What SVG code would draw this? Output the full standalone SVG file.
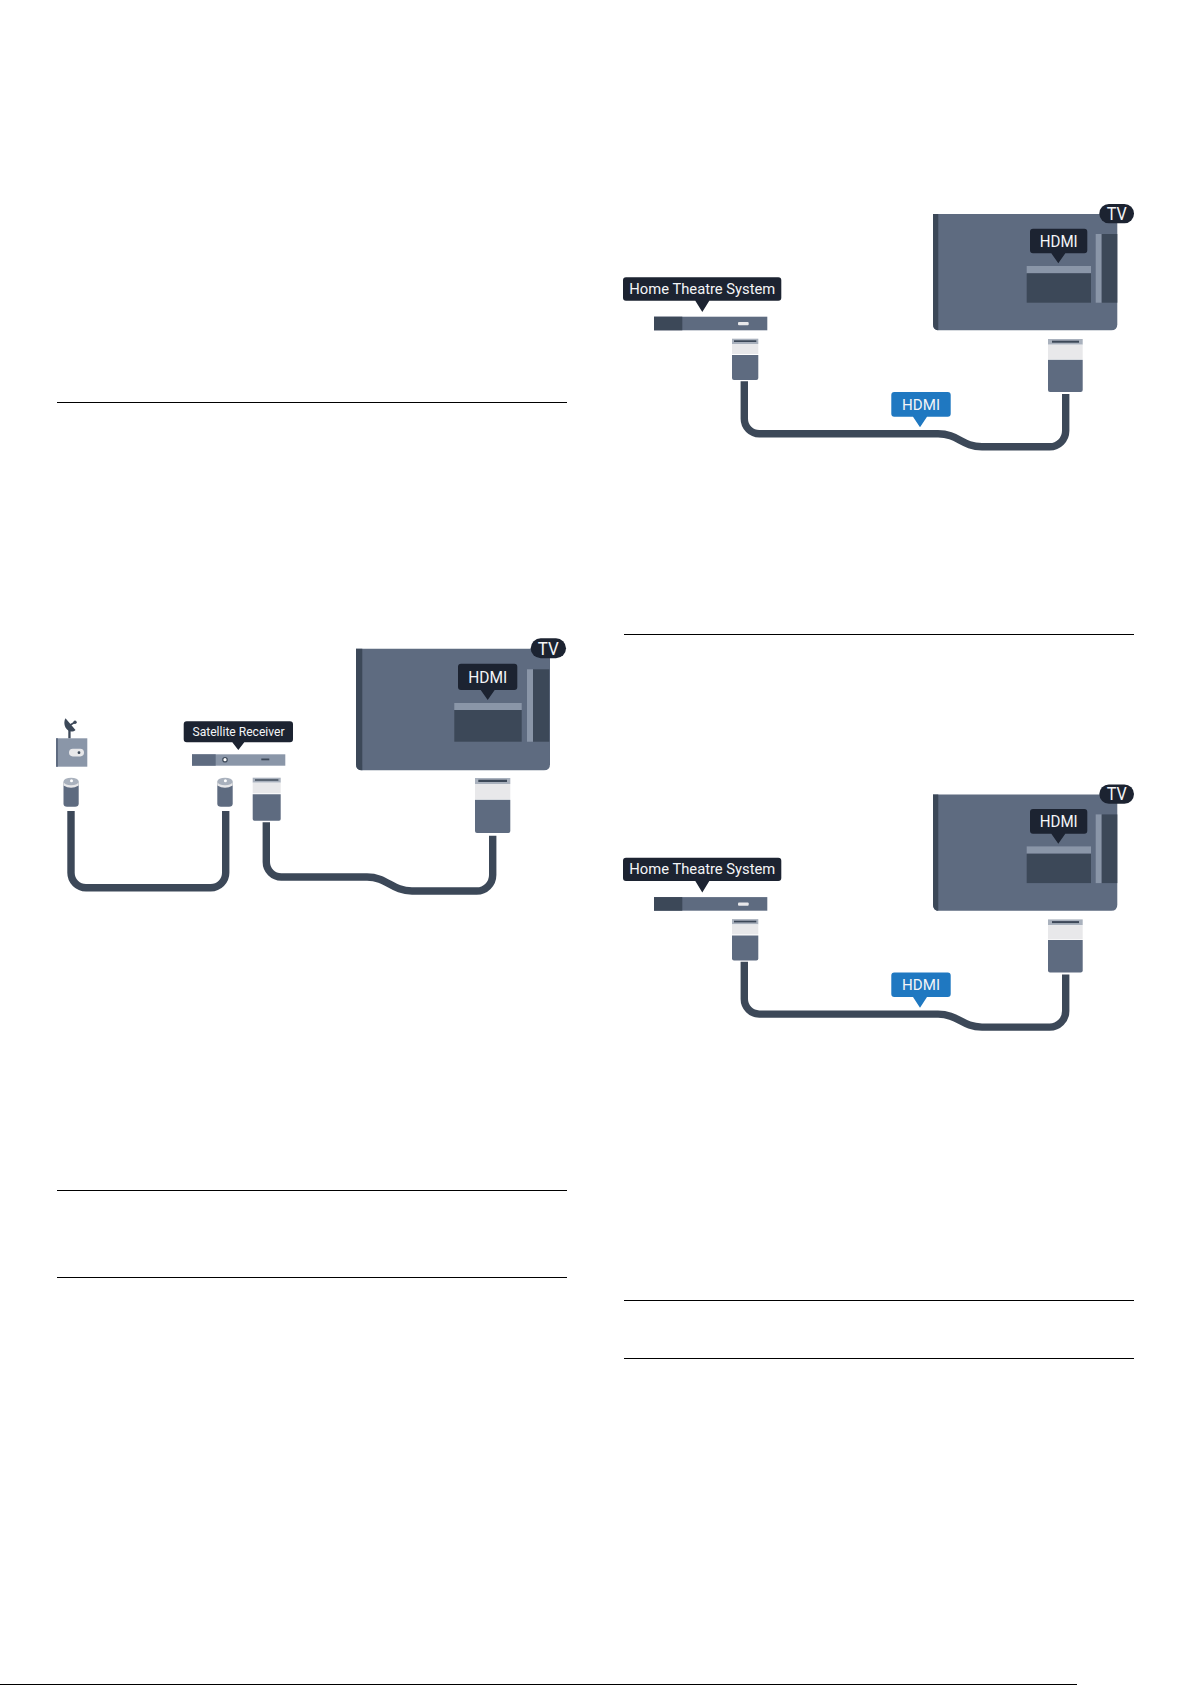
<svg xmlns="http://www.w3.org/2000/svg" width="1192" height="1685" viewBox="0 0 1192 1685">
<style>
.d{fill:#3c4858}.m{fill:#5e6b80}.l{fill:#8a96a8}.b{fill:#e8e8ea}.g{fill:#a9b1bd}
.n{fill:#1c2331}.bl{fill:#1f78c1}
.c{fill:none;stroke:#3c4858;stroke-width:7.4}
.r{fill:#000}
text{font-family:Roboto,"Liberation Sans",sans-serif;fill:#f4f5f7;text-anchor:middle}
</style>
<rect width="1192" height="1685" fill="#fff"/>
<g id="rules">
<rect class="r" x="57" y="402" width="510" height="1"/>
<rect class="r" x="57" y="1190" width="510" height="1"/>
<rect class="r" x="57" y="1277" width="510" height="1"/>
<rect class="r" x="624" y="634" width="510" height="1"/>
<rect class="r" x="624" y="1300" width="510" height="1"/>
<rect class="r" x="624" y="1358" width="510" height="1"/>
<rect class="r" x="0" y="1684" width="1077" height="1"/>
</g>
<g id="connectors">
<path class="c" d="M71 811V872.700A15 15 0 0 0 86 887.700H210.700A15 15 0 0 0 225.700 872.700V811"/>
<path class="c" d="M266.300 822.300V862A15 15 0 0 0 281.300 877H367C387 877 392 891 412 891H476.700A16 16 0 0 0 492.700 875V835.700"/>
<path class="c" d="M744.300 381.300V418.700A15 15 0 0 0 759.300 433.700H938C958 433.700 962 446.700 982 446.700H1049.700A16 16 0 0 0 1065.700 430.700V394"/>
<path class="c" transform="translate(0 580.400)" d="M744.300 381.300V418.700A15 15 0 0 0 759.300 433.700H938C958 433.700 962 446.700 982 446.700H1049.700A16 16 0 0 0 1065.700 430.700V394"/>
</g>
<g id="wall-outlet">
<rect class="d" x="68.300" y="726" width="2.300" height="12.500"/>
<path class="d" d="M65.500 718.200C62.800 723 65 729.500 70 731.300C72 731.900 74 731.400 75.500 730Z"/>
<path class="d" d="M68.500 725L74.500 721.500L75.300 723L69.500 726.500Z"/>
<circle class="d" cx="75" cy="722.300" r="1.700"/>
<rect class="l" x="56" y="738.300" width="31.300" height="28.400"/>
<rect class="m" x="56" y="738.300" width="2" height="28.400"/>
<rect class="b" x="69" y="748.800" width="15" height="7.600" rx="3.800"/>
<circle class="d" cx="79" cy="752.700" r="1.400"/>
</g>
<g id="coax-plug-left">
<path class="m" d="M63.500 782H78.700V803.500Q78.700 806.700 75 806.700H67Q63.500 806.700 63.500 803.500Z"/>
<path class="b" d="M63.500 782H78.700V785.500Q71 790 63.500 785.500Z"/>
<ellipse class="g" cx="71.100" cy="781.500" rx="7.600" ry="3.800"/>
<circle cx="71.500" cy="780.800" r="1.500" fill="#fff"/>
</g>
<g id="coax-plug-right">
<path class="m" d="M217.300 782H232.700V803.500Q232.700 806.700 229 806.700H221Q217.300 806.700 217.300 803.500Z"/>
<path class="b" d="M217.300 782H232.700V785.500Q225 790 217.300 785.500Z"/>
<ellipse class="g" cx="225" cy="781.500" rx="7.700" ry="3.800"/>
<circle cx="225.400" cy="780.800" r="1.500" fill="#fff"/>
</g>
<g id="satellite-receiver">
<rect class="l" x="192" y="754.300" width="93.300" height="11.400"/>
<rect class="m" x="192" y="754.300" width="23.700" height="11.400"/>
<circle cx="225" cy="759.700" r="2.200" fill="#fff" stroke="#3c4858" stroke-width="1.200"/>
<rect class="d" x="261.300" y="758.500" width="8" height="1.800"/>
<path class="n" d="M186.700 721.300H290Q293 721.300 293 724.300V739.300Q293 742.300 290 742.300H244.300L238.300 750 232.300 742.300H186.700Q183.700 742.300 183.700 739.300V724.300Q183.700 721.300 186.700 721.300Z"/>
<text x="238.500" y="736.300" font-size="13.500" textLength="92" lengthAdjust="spacingAndGlyphs">Satellite Receiver</text>
</g>
<g id="hdmi-plug-receiver">
<rect class="g" x="252.700" y="777.700" width="28" height="5"/>
<rect class="d" x="255" y="779.300" width="23.400" height="1.400"/>
<rect class="b" x="252.700" y="782.700" width="28" height="10.600"/>
<path class="m" d="M252.700 794.300H280.700V819Q280.700 820.700 279 820.700H254.400Q252.700 820.700 252.700 819Z"/>
</g>
<g id="tv-1">
<path class="m" d="M356 648.700H550V764.300Q550 770.300 544 770.300H362Q356 770.300 356 764.300Z"/>
<path class="d" d="M356 648.700H362.300V770.300H362Q356 770.300 356 764.300Z"/>
<rect class="l" x="454.300" y="703" width="67.400" height="7"/>
<rect class="d" x="454.300" y="710" width="67.400" height="31.700"/>
<rect class="l" x="527" y="669.300" width="6" height="72.400"/>
<rect class="d" x="533" y="669.300" width="16.300" height="72.400"/>
<rect class="n" x="530.700" y="638.300" width="35.300" height="20" rx="10"/>
<text x="548.300" y="654.500" font-size="18" textLength="21" lengthAdjust="spacingAndGlyphs">TV</text>
<path class="n" d="M461 663.700H514.300Q517.300 663.700 517.300 666.700V687Q517.300 690 514.300 690H494.700L487.700 700 480.700 690H461Q458 690 458 687V666.700Q458 663.700 461 663.700Z"/>
<text x="487.700" y="683" font-size="17" textLength="39" lengthAdjust="spacingAndGlyphs">HDMI</text>
</g>
<g id="hdmi-plug-tv-1">
<rect class="g" x="475" y="778" width="35.300" height="6"/>
<rect class="d" x="478.300" y="779.700" width="28.700" height="2.300"/>
<rect class="b" x="475" y="784" width="35.300" height="15"/>
<path class="m" d="M475 799.700H510.300V831Q510.300 833 508.300 833H477Q475 833 475 831Z"/>
</g>
<g id="hts-1">
<rect class="m" x="654" y="316.700" width="113.300" height="13.600"/>
<rect class="d" x="654" y="316.700" width="28.300" height="13.600"/>
<rect class="b" x="738" y="322" width="10.700" height="3.300" rx="1"/>
<path class="n" d="M626 277.300H778.300Q781.300 277.300 781.300 280.300V297.700Q781.300 300.700 778.300 300.700H709.300L702.300 312 695.300 300.700H626Q623 300.700 623 297.700V280.300Q623 277.300 626 277.300Z"/>
<text x="702.300" y="293.700" font-size="14.800" textLength="146" lengthAdjust="spacingAndGlyphs">Home Theatre System</text>
</g>
<g id="hdmi-plug-hts-1">
<rect class="g" x="732" y="338.700" width="26.300" height="5.300"/>
<rect class="d" x="734" y="340.300" width="22.300" height="1.700"/>
<rect class="b" x="732" y="344" width="26.300" height="10"/>
<path class="m" d="M732 355H758.300V378Q758.300 380 756.300 380H734Q732 380 732 378Z"/>
</g>
<g id="hdmi-label-1">
<path class="bl" d="M894.300 392H947.700Q950.700 392 950.700 395V413.700Q950.700 416.700 947.700 416.700H927L920 427.300 913 416.700H894.300Q891.300 416.700 891.300 413.700V395Q891.300 392 894.300 392Z"/>
<text x="921" y="409.700" font-size="15.500" textLength="38" lengthAdjust="spacingAndGlyphs">HDMI</text>
</g>
<g id="tv-2">
<path class="m" d="M933 214H1117.300V324.300Q1117.300 330.300 1111.300 330.300H939Q933 330.300 933 324.300Z"/>
<path class="d" d="M933 214H938.300V330.300H939Q933 330.300 933 324.300Z"/>
<rect class="l" x="1026.700" y="266" width="64.300" height="7.300"/>
<rect class="d" x="1026.700" y="273.300" width="64.300" height="29.400"/>
<rect class="l" x="1095.700" y="234" width="6" height="68.700"/>
<rect class="d" x="1101.700" y="234" width="15.600" height="68.700"/>
<rect class="n" x="1099.300" y="204" width="34.700" height="19.300" rx="9.600"/>
<text x="1116.700" y="219.700" font-size="17.500" textLength="20" lengthAdjust="spacingAndGlyphs">TV</text>
<path class="n" d="M1033 228.700H1084.300Q1087.300 228.700 1087.300 231.700V250.300Q1087.300 253.300 1084.300 253.300H1065.300L1058.300 263.300 1051.300 253.300H1033Q1030 253.300 1030 250.300V231.700Q1030 228.700 1033 228.700Z"/>
<text x="1058.700" y="247" font-size="16.500" textLength="38" lengthAdjust="spacingAndGlyphs">HDMI</text>
</g>
<g id="hdmi-plug-tv-2">
<rect class="g" x="1048" y="339" width="34.700" height="5.700"/>
<rect class="d" x="1052" y="340.700" width="27" height="2"/>
<rect class="b" x="1048" y="344.700" width="34.700" height="14.300"/>
<path class="m" d="M1048 359.700H1082.700V390Q1082.700 392 1080.700 392H1050Q1048 392 1048 390Z"/>
</g>
<g id="hts-2" transform="translate(0 580.400)">
<rect class="m" x="654" y="316.700" width="113.300" height="13.600"/>
<rect class="d" x="654" y="316.700" width="28.300" height="13.600"/>
<rect class="b" x="738" y="322" width="10.700" height="3.300" rx="1"/>
<path class="n" d="M626 277.300H778.300Q781.300 277.300 781.300 280.300V297.700Q781.300 300.700 778.300 300.700H709.300L702.300 312 695.300 300.700H626Q623 300.700 623 297.700V280.300Q623 277.300 626 277.300Z"/>
<text x="702.300" y="293.700" font-size="14.800" textLength="146" lengthAdjust="spacingAndGlyphs">Home Theatre System</text>
</g>
<g id="hdmi-plug-hts-2" transform="translate(0 580.400)">
<rect class="g" x="732" y="338.700" width="26.300" height="5.300"/>
<rect class="d" x="734" y="340.300" width="22.300" height="1.700"/>
<rect class="b" x="732" y="344" width="26.300" height="10"/>
<path class="m" d="M732 355H758.300V378Q758.300 380 756.300 380H734Q732 380 732 378Z"/>
</g>
<g id="hdmi-label-2" transform="translate(0 580.400)">
<path class="bl" d="M894.300 392H947.700Q950.700 392 950.700 395V413.700Q950.700 416.700 947.700 416.700H927L920 427.300 913 416.700H894.300Q891.300 416.700 891.300 413.700V395Q891.300 392 894.300 392Z"/>
<text x="921" y="409.700" font-size="15.500" textLength="38" lengthAdjust="spacingAndGlyphs">HDMI</text>
</g>
<g id="tv-3" transform="translate(0 580.400)">
<path class="m" d="M933 214H1117.300V324.300Q1117.300 330.300 1111.300 330.300H939Q933 330.300 933 324.300Z"/>
<path class="d" d="M933 214H938.300V330.300H939Q933 330.300 933 324.300Z"/>
<rect class="l" x="1026.700" y="266" width="64.300" height="7.300"/>
<rect class="d" x="1026.700" y="273.300" width="64.300" height="29.400"/>
<rect class="l" x="1095.700" y="234" width="6" height="68.700"/>
<rect class="d" x="1101.700" y="234" width="15.600" height="68.700"/>
<rect class="n" x="1099.300" y="204" width="34.700" height="19.300" rx="9.600"/>
<text x="1116.700" y="219.700" font-size="17.500" textLength="20" lengthAdjust="spacingAndGlyphs">TV</text>
<path class="n" d="M1033 228.700H1084.300Q1087.300 228.700 1087.300 231.700V250.300Q1087.300 253.300 1084.300 253.300H1065.300L1058.300 263.300 1051.300 253.300H1033Q1030 253.300 1030 250.300V231.700Q1030 228.700 1033 228.700Z"/>
<text x="1058.700" y="247" font-size="16.500" textLength="38" lengthAdjust="spacingAndGlyphs">HDMI</text>
</g>
<g id="hdmi-plug-tv-3" transform="translate(0 580.400)">
<rect class="g" x="1048" y="339" width="34.700" height="5.700"/>
<rect class="d" x="1052" y="340.700" width="27" height="2"/>
<rect class="b" x="1048" y="344.700" width="34.700" height="14.300"/>
<path class="m" d="M1048 359.700H1082.700V390Q1082.700 392 1080.700 392H1050Q1048 392 1048 390Z"/>
</g>
</svg>
